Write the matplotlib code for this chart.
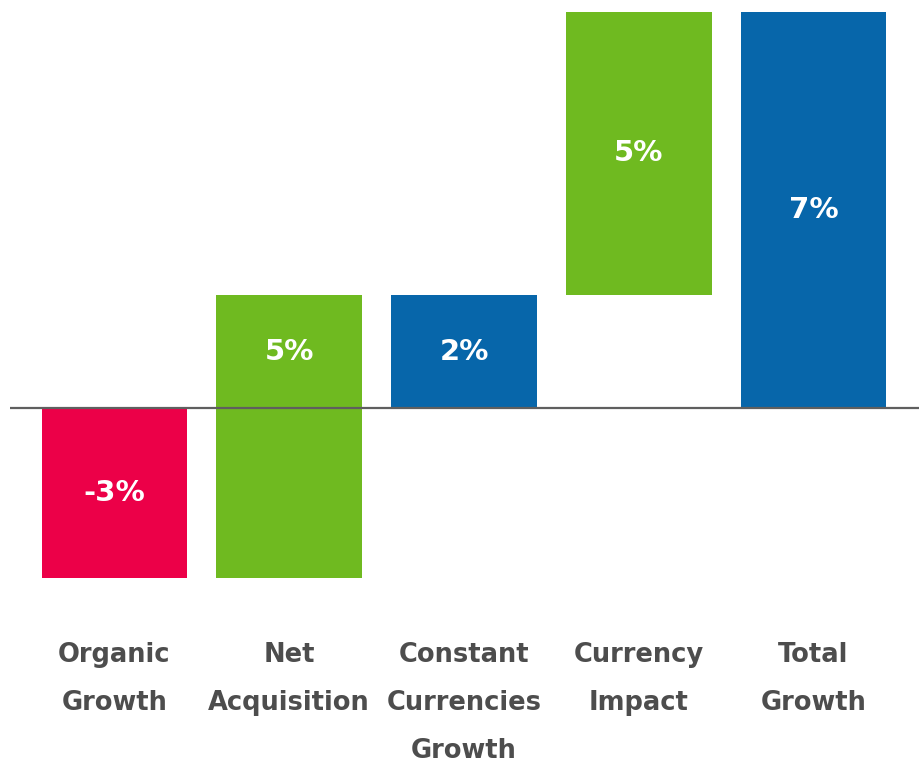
import numpy as np
import matplotlib
matplotlib.use("Agg")
import matplotlib.pyplot as plt

categories = ["Organic\nGrowth", "Net\nAcquisition", "Constant\nCurrencies\nGrowth",
              "Currency\nImpact", "Total\nGrowth"]
bottoms = [0, -3, 0, 2, 0]
heights = [-3, 5, 2, 5, 7]
labels = ["-3%", "5%", "2%", "5%", "7%"]
colors = ["#EC0048", "#6FBA20", "#0766AA", "#6FBA20", "#0766AA"]

fig = plt.figure(figsize=(9.19, 7.62), dpi=100)
ax = fig.add_axes([10 / 919, 162 / 762, 909 / 919, 600 / 762])

x = np.arange(len(categories))
ax.bar(x, heights, bottom=bottoms, width=0.835, color=colors, zorder=2)
ax.axhline(0, color="#5f5f5f", lw=1.6, zorder=3)

for xi, b, h, lab in zip(x, bottoms, heights, labels):
    lo, hi = sorted([b, b + h])
    if lo < 0 < hi:
        lo = 0
    ax.text(xi, (lo + hi) / 2, lab, ha="center", va="center", color="white",
            fontsize=21, fontweight="bold", zorder=4)

ax.set_xlim(-0.598, 4.604)
ax.set_ylim(-3.39, 7.21)
ax.set_yticks([])
ax.set_xticks(x)
ax.set_xticklabels(categories, fontsize=18.5, fontweight="bold", color="#4d4d4d",
                   linespacing=2.1, va="top")
ax.tick_params(axis="x", length=0, pad=30)
for s in ax.spines.values():
    s.set_visible(False)

fig.savefig("out.png", dpi=100)
